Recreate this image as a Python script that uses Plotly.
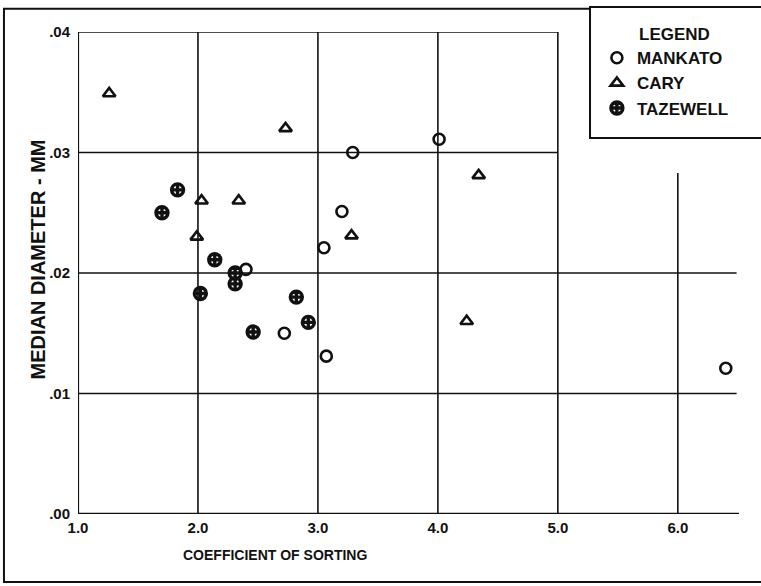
import plotly.graph_objects as go

# ---- data ----
mankato_x = [2.40, 3.29, 3.20, 3.05, 4.01, 2.72, 3.07, 6.40]
mankato_y = [0.0203, 0.0300, 0.0251, 0.0221, 0.0311, 0.0150, 0.0131, 0.0121]

cary_x = [1.26, 2.73, 2.03, 2.34, 1.99, 3.28, 4.34, 4.24]
cary_y = [0.0349, 0.0320, 0.0260, 0.0260, 0.0230, 0.0231, 0.0281, 0.0160]

tazewell_x = [1.83, 1.70, 2.14, 2.31, 2.31, 2.02, 2.46, 2.82, 2.92]
tazewell_y = [0.0269, 0.0250, 0.0211, 0.0200, 0.0191, 0.0183, 0.0151, 0.0180, 0.0159]

x_ticks = [1.0, 2.0, 3.0, 4.0, 5.0, 6.0]
x_tick_labels = ["1.0", "2.0", "3.0", "4.0", "5.0", "6.0"]
y_ticks = [0.00, 0.01, 0.02, 0.03, 0.04]
y_tick_labels = [".00", ".01", ".02", ".03", ".04"]

FONT = "Liberation Sans, Arial, sans-serif"
INK = "#111111"

fig = go.Figure()
fig.add_trace(go.Scatter(
    x=mankato_x, y=mankato_y, mode="markers", name="MANKATO",
    marker=dict(symbol="circle-open", size=11, color=INK, line=dict(width=2.6, color=INK)),
))
fig.add_trace(go.Scatter(
    x=cary_x, y=cary_y, mode="markers", name="CARY",
    marker=dict(symbol="triangle-up-open", size=11, color=INK, line=dict(width=2.6, color=INK)),
))
fig.add_trace(go.Scatter(
    x=tazewell_x, y=tazewell_y, mode="markers", name="TAZEWELL",
    marker=dict(symbol="circle-cross-open", size=12, color=INK, line=dict(width=3.4, color=INK)),
))

# ---- frame / grid drawn as in the hand-drafted figure ----
shapes = []
def seg(x0, y0, x1, y1, w=1.6):
    shapes.append(dict(type="line", xref="x", yref="y", x0=x0, y0=y0, x1=x1, y1=y1,
                       line=dict(color=INK, width=w), layer="below"))

x_end = 6.51
for xv in [2.0, 3.0, 4.0, 5.0]:
    seg(xv, 0.0, xv, 0.04)
seg(6.0, 0.0, 6.0, 0.0283)
seg(1.0, 0.04, 5.0, 0.04)
seg(1.0, 0.03, 5.0, 0.03)
seg(1.0, 0.02, 6.49, 0.02)
seg(1.0, 0.01, 6.49, 0.01)
seg(1.0, 0.0, x_end, 0.0, w=2.4)
seg(1.0, 0.0, 1.0, 0.04, w=2.2)

# outer frame of the figure
shapes.append(dict(type="rect", xref="paper", yref="paper",
                   x0=-0.112, y0=-0.141, x1=1.036, y1=1.048,
                   line=dict(color=INK, width=2)))
# legend box
shapes.append(dict(type="rect", xref="paper", yref="paper",
                   x0=0.7746, y0=0.780, x1=1.036, y1=1.052,
                   line=dict(color=INK, width=2), fillcolor="white"))

annotations = [
    dict(text="COEFFICIENT OF SORTING", xref="x", yref="paper", x=2.64, y=-0.085,
         showarrow=False, font=dict(family=FONT, size=14, color=INK, weight="bold"),
         yanchor="middle"),
    dict(text="MEDIAN DIAMETER - MM", xref="paper", yref="paper", x=-0.062, y=0.528,
         textangle=-90, showarrow=False, font=dict(family=FONT, size=20, color=INK, weight="bold"),
         xanchor="center", yanchor="middle"),
    dict(text="LEGEND", xref="paper", yref="paper", x=0.903, y=0.994,
         showarrow=False, font=dict(family=FONT, size=17, color=INK, weight="bold"),
         xanchor="center", yanchor="middle"),
]

fig.update_layout(
    width=761, height=586,
    margin=dict(l=78, r=22, t=32, b=72),
    paper_bgcolor="white", plot_bgcolor="white",
    font=dict(family=FONT, color=INK),
    shapes=shapes, annotations=annotations,
    xaxis=dict(range=[1.0, x_end], tickvals=x_ticks, ticktext=x_tick_labels,
               showgrid=False, zeroline=False, showline=False, ticks="",
               tickfont=dict(family=FONT, size=15, color=INK, weight="bold"), ticklabelstandoff=3),
    yaxis=dict(range=[0.0, 0.04], tickvals=y_ticks, ticktext=y_tick_labels,
               showgrid=False, zeroline=False, showline=False, ticks="",
               tickfont=dict(family=FONT, size=15, color=INK, weight="bold"), ticklabelstandoff=7),
    legend=dict(x=0.785, y=0.983, xanchor="left", yanchor="top",
                bgcolor="rgba(0,0,0,0)", borderwidth=0,
                font=dict(family=FONT, size=17, color=INK, weight="bold"),
                itemwidth=30, tracegroupgap=0),
    showlegend=True,
)

fig.write_html("out.html", config={"displayModeBar": False},
               post_script="document.body.style.margin='0';document.body.style.padding='0';")
